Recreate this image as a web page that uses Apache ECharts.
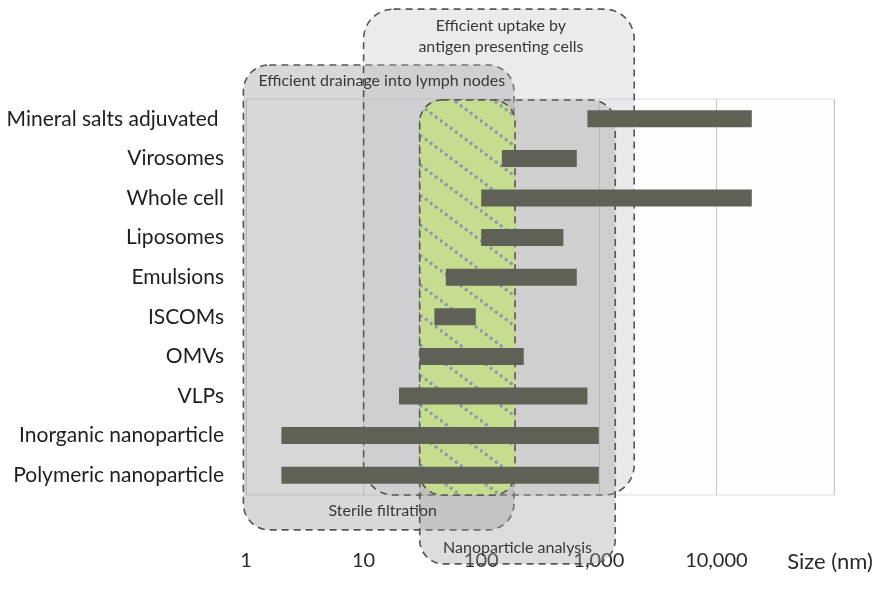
<!DOCTYPE html>
<html><head><meta charset="utf-8">
<script src="https://cdn.jsdelivr.net/npm/echarts@6/dist/echarts.min.js"></script>
<style>html,body{margin:0;padding:0;background:#fff}#c{width:882px;height:605px}</style>
</head><body><div id="c"></div>
<script>
// ---- data ----
const categories = ['Mineral salts adjuvated ','Virosomes','Whole cell','Liposomes','Emulsions','ISCOMs','OMVs','VLPs','Inorganic nanoparticle','Polymeric nanoparticle'];
const sizeMin = [800, 150, 100, 100, 50, 40, 30, 20, 2, 2];
const sizeMax = [20000, 650, 20000, 500, 650, 90, 230, 800, 1000, 1000];
const xTickLabels = ['1', '10', '100', '1,000', '10,000', 'Size (nm)'];
const zoneTopLabels = ['Efficient drainage into lymph nodes', 'Efficient uptake by\nantigen presenting cells', '', ''];
const zoneBottomLabels = ['Sterile filtration', '', 'Nanoparticle analysis', ''];
const zoneMin = [0.95, 10, 30, 30];
const zoneMax = [190, 2000, 1380, 194];

// ---- layout (row units, -0.5 = plot top, 9.5 = plot bottom) ----
const zoneTopRow = [-1.36, -2.77, -0.475, -0.475];
const zoneBottomRow = [10.38, 9.5, 11.24, 9.5];

const FONT = 'Lato, "Open Sans", sans-serif';

// hatch pattern for the green zone
const pc = document.createElement('canvas');
pc.width = 40; pc.height = 30;
const g = pc.getContext('2d');
g.fillStyle = '#c6dc8f'; g.fillRect(0, 0, 40, 30);
g.strokeStyle = '#8a9aab'; g.lineWidth = 3; g.setLineDash([3, 3.25]);
for (let k = -1; k <= 1; k++) { g.beginPath(); g.moveTo(0, k * 30); g.lineTo(40, 30 + k * 30); g.stroke(); }

const zoneStyles = [
  { fill: 'rgba(150,150,150,0.37)', r: 26 },
  { fill: 'rgba(190,190,195,0.30)', r: 30 },
  { fill: 'rgba(160,160,162,0.36)', r: 24 },
  { fill: { image: pc, repeat: 'repeat' }, r: 22 }
];

const zoneData = zoneMin.map((v, i) => [v, zoneMax[i], zoneTopRow[i], zoneBottomRow[i]]);
const barData = categories.map((c, i) => [sizeMin[i], sizeMax[i], i]);

const LBL = { fill: '#383838', font: '16px ' + FONT };

function zoneBox(api) {
  const p0 = api.coord([api.value(0), api.value(2)]);
  const p1 = api.coord([api.value(1), api.value(3)]);
  return { x: p0[0], y: p0[1], w: p1[0] - p0[0], h: p1[1] - p0[1] };
}

function renderZone(params, api) {
  const i = params.dataIndex;
  const b = zoneBox(api);
  const st = zoneStyles[i];
  return {
    type: 'rect',
    shape: { x: b.x, y: b.y, width: b.w, height: b.h, r: st.r },
    style: { fill: st.fill, stroke: '#555', lineWidth: 1.6, lineDash: [7, 5] }
  };
}

function renderZoneLabel(params, api) {
  const i = params.dataIndex;
  const b = zoneBox(api);
  const children = [];
  if (i === 0) {
    children.push({ type: 'text', x: b.x + 15, y: b.y + 16, style: Object.assign({ text: zoneTopLabels[i], align: 'left', verticalAlign: 'middle' }, LBL) });
    children.push({ type: 'text', x: b.x + b.w / 2 + 4, y: b.y + b.h - 19, style: Object.assign({ text: zoneBottomLabels[i], align: 'center', verticalAlign: 'middle' }, LBL) });
  } else if (i === 1) {
    children.push({ type: 'text', x: b.x + b.w / 2 + 2, y: b.y + 27, style: Object.assign({ text: zoneTopLabels[i], lineHeight: 21, align: 'center', verticalAlign: 'middle' }, LBL) });
  } else if (i === 2) {
    children.push({ type: 'text', x: b.x + b.w / 2, y: b.y + b.h - 16, style: Object.assign({ text: zoneBottomLabels[i], align: 'center', verticalAlign: 'middle' }, LBL) });
  }
  return { type: 'group', children: children };
}

function renderBar(params, api) {
  const s = api.coord([api.value(0), api.value(2)]);
  const e = api.coord([api.value(1), api.value(2)]);
  const rowH = api.coord([1, 1])[1] - api.coord([1, 0])[1];
  const h = rowH * 0.43;
  return {
    type: 'rect',
    shape: { x: s[0], y: s[1] - h / 2, width: e[0] - s[0], height: h },
    style: { fill: '#5f6157' }
  };
}

const chart = echarts.init(document.getElementById('c'), null, { renderer: 'canvas' });
chart.setOption({
  animation: false,
  backgroundColor: '#fff',
  grid: { left: 246, right: 48, top: 99, bottom: 110, show: true, borderColor: '#dedede', borderWidth: 1, backgroundColor: '#fdfdfd' },
  xAxis: {
    type: 'log', logBase: 10, min: 1, max: 100000, splitNumber: 5,
    axisLine: { show: false }, axisTick: { show: false },
    splitLine: { show: true, lineStyle: { color: '#c9c9c9', width: 1 } },
    axisLabel: {
      margin: 56, fontSize: 20, color: '#2a2a2a', fontFamily: FONT,
      formatter: v => {
        const k = Math.round(Math.log10(v));
        return k === 5 ? '{u|' + xTickLabels[k] + '}' : xTickLabels[k];
      },
      rich: { u: { fontSize: 22, fontFamily: FONT, color: '#2a2a2a', padding: [0, 8, 0, 0] } }
    }
  },
  yAxis: [
    {
      type: 'category', data: categories, inverse: true,
      axisLine: { show: false }, axisTick: { show: false }, splitLine: { show: false },
      axisLabel: { fontSize: 21, color: '#1e1e1e', fontFamily: FONT, margin: 22 }
    },
    { type: 'value', inverse: true, min: -0.5, max: 9.5, show: false, splitLine: { show: false } }
  ],
  series: [
    { type: 'custom', xAxisIndex: 0, yAxisIndex: 1, renderItem: renderZone, data: zoneData, encode: { x: [0, 1], y: [2, 3] }, clip: false, z: 2, silent: true },
    { type: 'custom', xAxisIndex: 0, yAxisIndex: 1, renderItem: renderZoneLabel, data: zoneData, encode: { x: [0, 1], y: [2, 3] }, clip: false, z: 3, silent: true },
    { type: 'custom', xAxisIndex: 0, yAxisIndex: 1, renderItem: renderBar, data: barData, encode: { x: [0, 1], y: 2 }, clip: false, z: 5, silent: true }
  ]
});
</script>
</body></html>
